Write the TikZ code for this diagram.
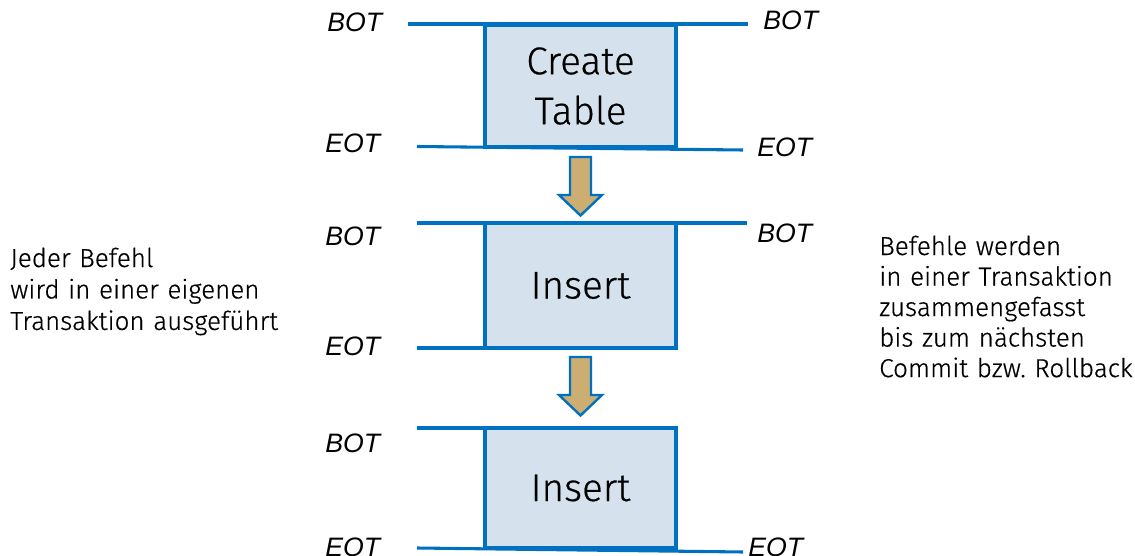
\documentclass[tikz,border=0pt]{standalone}
\usepackage{fontspec}
\setmainfont{Fira Sans Light}[WordSpace=0.8, FakeBold=0.5]
\newfontfamily\markfont{Liberation Sans}
\definecolor{tblue}{RGB}{0,112,192}
\definecolor{boxfill}{RGB}{213,226,238}
\definecolor{arrowfill}{RGB}{205,174,114}
\frenchspacing
\begin{document}
\begin{tikzpicture}[x=0.75pt,y=-0.75pt,
  tline/.style={draw=tblue, line width=2.3pt},
  cmdbox/.style={draw=tblue, line width=2.3pt, fill=boxfill, minimum width=143.25pt,
    inner sep=0pt, outer sep=0pt, align=center, font=\fontsize{29}{37.5}\selectfont},
  marker/.style={font=\markfont\itshape\fontsize{20}{24}\selectfont, anchor=base west, inner sep=0pt},
  note/.style={align=left, anchor=base west, inner sep=0pt, text width=240pt},
  stepflow/.style={fill=arrowfill, draw=tblue, line width=1.8pt, line join=miter}
]
\useasboundingbox (0,0) rectangle (1135,556);

% command boxes
\node[cmdbox, minimum height=91.5pt] (create) at (580.5,86) {Create\\Table};
\node[cmdbox, minimum height=93.75pt] (ins1) at (580.5,285.5) {Insert};
\node[cmdbox, minimum height=90pt] (ins2) at (580.5,488) {Insert};

% transaction boundaries
\coordinate (b1l) at (408,24);  \coordinate (b1r) at (748,24);
\coordinate (e1l) at (417,146.5); \coordinate (e1r) at (743,150);
\coordinate (b2l) at (417,223); \coordinate (b2r) at (747,223);
\coordinate (e2l) at (417,348);
\coordinate (b3l) at (417,428);
\coordinate (e3l) at (417,548); \coordinate (e3r) at (743,552);

\draw[tline] (b1l) -- (b1r);
\draw[tline] (e1l) -- (e1r);
\draw[tline] (b2l) -- (b2r);
\draw[tblue, line width=3.6pt] (ins1.north west) -- (ins1.north east);
\draw[tline] (e2l) -- (ins1.south west);
\draw[tline] (b3l) -- (ins2.north west);
\draw[tblue, line width=3.6pt] (ins2.north west) -- (ins2.north east);
\draw[tline] (e3l) -- (e3r);

% flow arrows between the commands
\coordinate (a1) at (580.5,157);
\coordinate (a2) at (580.5,357);
\draw[stepflow] (a1) ++(-10.5,0) -- ++(0,38) -- ++(-11,0) -- ++(21.5,20.5)
  -- ++(21.5,-20.5) -- ++(-11,0) -- ++(0,-38) -- cycle;
\draw[stepflow] (a2) ++(-10.5,0) -- ++(0,38) -- ++(-11,0) -- ++(21.5,20.5)
  -- ++(21.5,-20.5) -- ++(-11,0) -- ++(0,-38) -- cycle;

% BOT / EOT markers
\node[marker] (lb1) at (327,32) {BOT};
\node[marker] (rb1) at (763,30) {BOT};
\node[marker] (le1) at (325,153) {EOT};
\node[marker] (re1) at (757,157) {EOT};
\node[marker] (lb2) at (325,245) {BOT};
\node[marker] (rb2) at (757,242) {BOT};
\node[marker] (le2) at (325,355) {EOT};
\node[marker] (lb3) at (325,452) {BOT};
\node[marker] (le3) at (325,556) {EOT};
\node[marker] (re3) at (748,556) {EOT};

% explanatory notes
\node[note, font=\fontsize{19.5}{23.6}\selectfont] (leftnote) at (10,267)
  {Jeder Befehl\\wird in einer eigenen\\Transaktion ausgeführt};
\node[note, font=\fontsize{19.5}{22.9}\selectfont] (rightnote) at (879,255)
  {Befehle werden\\in einer Transaktion\\zusammengefasst\\bis zum nächsten\\Commit bzw. Rollback};
\end{tikzpicture}
\end{document}
